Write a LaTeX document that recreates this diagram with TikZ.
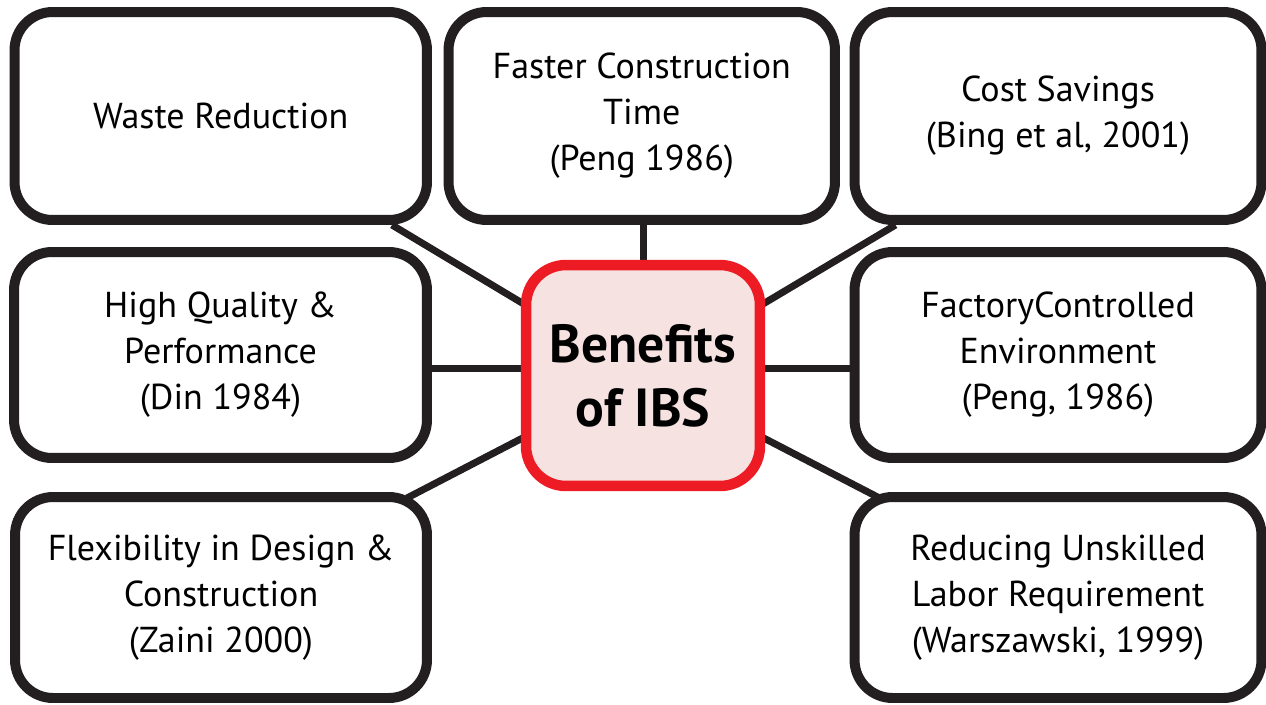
\documentclass[tikz,border=0pt]{standalone}
\usepackage{fontspec}
\setmainfont{PT Sans}
\usetikzlibrary{backgrounds}
\definecolor{ink}{HTML}{231F20}
\definecolor{ibsred}{HTML}{ED1C24}
\definecolor{ibspink}{HTML}{F5E2E1}
\tikzset{
  box/.style={draw=ink, line width=0.2cm, rounded corners=0.76cm, fill=white,
    inner sep=0pt, align=center, font=\fontsize{20.5}{26.2}\selectfont},
  hub/.style={draw=ibsred, line width=0.21cm, rounded corners=0.8cm, fill=ibspink,
    inner sep=0pt, align=center, font=\fontsize{30.5}{36.5}\selectfont\bfseries,
    minimum width=4.68cm, minimum height=4.42cm},
  conn/.style={draw=ink, line width=0.14cm}
}
\begin{document}
\begin{tikzpicture}[x=0.02cm, y=-0.02cm]
\useasboundingbox (0,0) rectangle (1266,704);
\node[box, minimum width=8.25cm, minimum height=4.16cm] (b1) at (220.75,116) {Waste Reduction};
\node[box, minimum width=7.73cm, minimum height=4.16cm] (b2) at (641.75,116) {Faster Construction\\Time\\(Peng 1986)};
\node[box, minimum width=8.14cm, minimum height=4.16cm] (b3) at (1058,116) {Cost Savings\\(Bing et al, 2001)};
\node[box, minimum width=8.26cm, minimum height=4.12cm] (b4) at (220.5,355) {High Quality \&\\Performance\\(Din 1984)};
\node[box, minimum width=8.14cm, minimum height=4.12cm] (b5) at (1058,355) {FactoryControlled\\Environment\\(Peng, 1986)};
\node[box, minimum width=8.24cm, minimum height=4.02cm] (b6) at (221,597.5) {Flexibility in Design \&\\Construction\\(Zaini 2000)};
\node[box, minimum width=8.14cm, minimum height=4.02cm] (b7) at (1058,597.5) {Reducing Unskilled\\Labor Requirement\\(Warszawski, 1999)};
\node[hub] (c) at (643,375.5) {Benefits\\of IBS};
\begin{pgfonlayer}{background}
\draw[conn] (c.center) -- ([xshift=-0.8cm]b1.south east);
\draw[conn] (c.center) -- ([xshift=0.92cm]b3.south west);
\draw[conn] (c.center) -- ([xshift=-0.5cm,yshift=-0.12cm]b6.north east);
\draw[conn] (c.center) -- ([xshift=0.6cm,yshift=-0.12cm]b7.north west);
\draw[conn] ([yshift=-0.26cm]b4.east) -- ([yshift=-0.26cm]b4.east -| c.west);
\draw[conn] ([yshift=-0.26cm]b5.west) -- ([yshift=-0.26cm]b5.west -| c.east);
\draw[conn] (c.north) -- (c.north |- b2.south);
\end{pgfonlayer}
\end{tikzpicture}
\end{document}
